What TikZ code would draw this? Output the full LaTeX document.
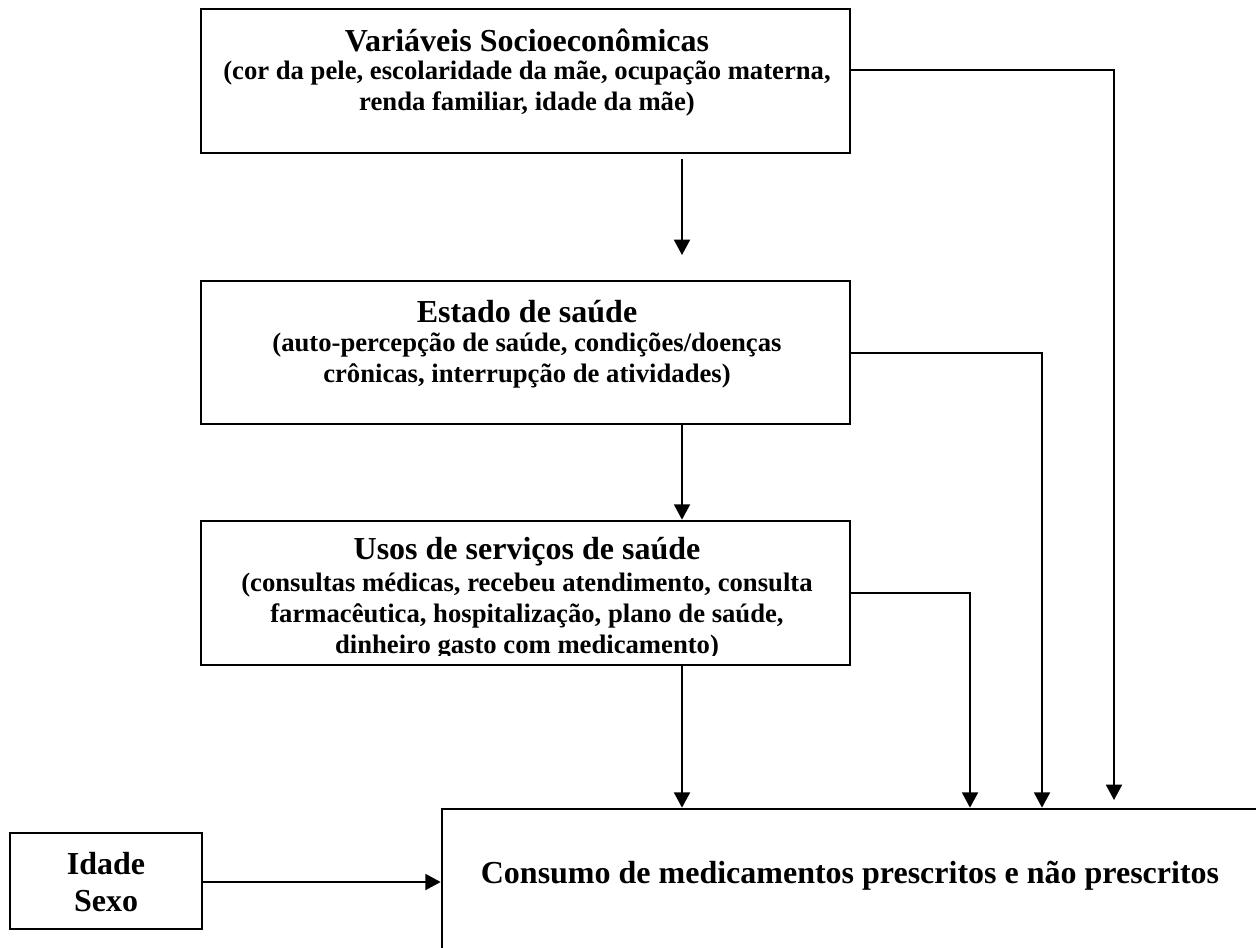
\documentclass[tikz,border=0pt]{standalone}
\usepackage{fontspec}
\setmainfont{Liberation Serif}
\usetikzlibrary{arrows.meta,fit}
\begin{document}
\begin{tikzpicture}[x=0.75pt,y=-0.75pt,
  boxline/.style={draw=black, line width=2pt, inner sep=0pt, rectangle},
  conn/.style={draw=black, line width=1.4pt},
  arr/.style={conn, -{Triangle[width=12pt,length=11.5pt]}},
  ttl/.style={font=\fontsize{24}{27}\selectfont\bfseries, inner sep=0pt},
  sub/.style={font=\fontsize{20}{23.25}\selectfont\bfseries, align=center, inner sep=0pt, anchor=north}
]
\clip (0,0) rectangle (1256,947);
\fill[white] (0,0) rectangle (1256,947);
% box corners
\coordinate (b1nw) at (201,9);   \coordinate (b1se) at (850,153);
\coordinate (b2nw) at (201,281); \coordinate (b2se) at (850,424);
\coordinate (b3nw) at (201,521); \coordinate (b3se) at (850,665);
\coordinate (b4nw) at (442,809); \coordinate (b4se) at (1275,965);
\coordinate (b5nw) at (10,833);  \coordinate (b5se) at (202,929);
\node[boxline, fit={(b1nw)(b1se)}] (box1) {};
\node[boxline, fit={(b2nw)(b2se)}] (box2) {};
\node[boxline, fit={(b3nw)(b3se)}] (box3) {};
\node[boxline, fit={(b4nw)(b4se)}] (box4) {};
\node[boxline, fit={(b5nw)(b5se)}] (box5) {};
% texts
\node[ttl] (t1) at (527,40) {Variáveis Socioeconômicas};
\node[sub] (s1) at (527,61) {(cor da pele, escolaridade da mãe, ocupação materna,\\renda familiar, idade da mãe)};
\node[ttl] (t2) at (527,312) {Estado de saúde};
\node[sub] (s2) at (527,333) {(auto-percepção de saúde, condições/doenças\\crônicas, interrupção de atividades)};
\begin{scope}
\clip (201,521) rectangle (850,655);
\node[ttl] (t3) at (527,552) {Usos de serviços de saúde};
\node[sub] (s3) at (527,573) {(consultas médicas, recebeu atendimento, consulta\\farmacêutica, hospitalização, plano de saúde,\\dinheiro gasto com medicamento)};
\end{scope}
\node[ttl] (t4) at (850,876) {Consumo de medicamentos prescritos e não prescritos};
\node[ttl, align=center, font=\fontsize{24}{27.75}\selectfont\bfseries] (t5) at (106,882) {Idade\\Sexo};
% connectors
\coordinate (a1s) at (682,159);
\coordinate (a1e) at (682,255);
\draw[arr] (a1s) -- (a1e);
\draw[arr] (box2.south -| a1s) -- (box3.north -| a1s);
\draw[arr] (box3.south -| a1s) -- (box4.north -| a1s);
\draw[arr] (box5.east |- t5.center) -- (box4.west |- t5.center);
\coordinate (c1) at (1114,70);
\coordinate (c2) at (1042,353);
\coordinate (c3) at (970,593);
\coordinate (c1e) at (1114,800);
\draw[arr] (box1.east |- c1) -- (c1) -- (c1e);
\draw[arr] (box2.east |- c2) -- (c2) -- (c2 |- box4.north);
\draw[arr] (box3.east |- c3) -- (c3) -- (c3 |- box4.north);
\end{tikzpicture}
\end{document}
